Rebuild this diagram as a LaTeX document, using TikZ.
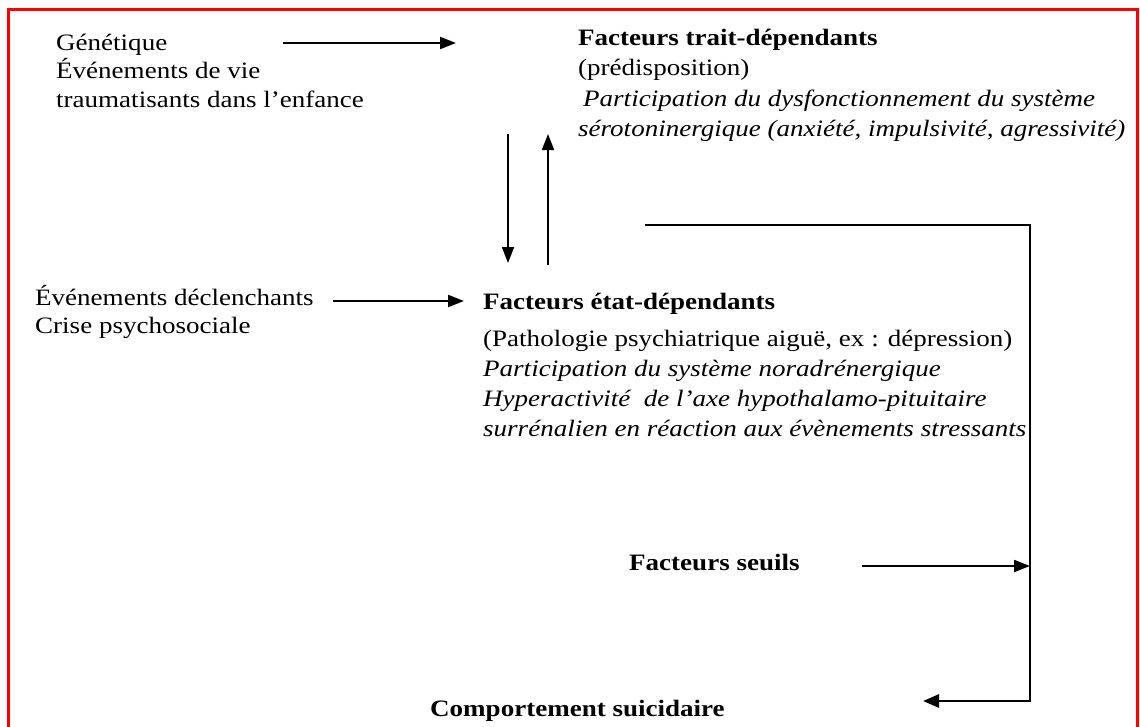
\documentclass[tikz,border=0pt]{standalone}
\usepackage{fontspec}
\setmainfont{Liberation Serif}[FakeStretch=1.15]
\usetikzlibrary{arrows.meta}
\begin{document}
\begin{tikzpicture}[x=1pt,y=-1pt,
  txt/.style={anchor=base west,inner sep=0pt,align=left,font=\fontsize{23.5}{29}\selectfont},
  arr/.style={-{Triangle[length=16pt,width=12pt]},line width=2.1pt},
  varr/.style={-{Triangle[length=16pt,width=12pt]},line width=1.8pt},
  frame/.style={draw=red,line width=3pt}]
\useasboundingbox (0,0) rectangle (1140,726);
\draw[frame] (8.5,730) -- (8.5,9.5) -- (1137.5,9.5) -- (1137.5,730);

% anchors are at the baseline of each block's last line
\node[txt,font=\fontsize{23.5}{28.5}\selectfont] (gen) at (56,107) {Génétique\\Événements de vie\\traumatisants dans l'enfance};
\node[txt,font=\fontsize{23.5}{30.5}\selectfont] (trait) at (578,136.5) {\textbf{Facteurs trait-dépendants}\\(prédisposition)\\\hspace*{5pt}\textit{Participation du dysfonctionnement du système}\\\textit{sérotoninergique (anxiété, impulsivité, agressivité)}};
\node[txt,font=\fontsize{23.5}{28}\selectfont] (decl) at (35,333) {Événements déclenchants\\Crise psychosociale};
\node[txt,font=\fontsize{23.5}{30}\selectfont] (etat) at (483,436) {\textbf{Facteurs état-dépendants}\\[7pt](Pathologie psychiatrique aiguë, ex : dépression)\\\textit{Participation du système noradrénergique}\\\textit{Hyperactivité \ de l'axe hypothalamo-pituitaire}\\\textit{surrénalien en réaction aux évènements stressants}};
\node[txt] (seuils) at (629,570) {\textbf{Facteurs seuils}};
\node[txt] (comp) at (430,716) {\textbf{Comportement suicidaire}};

\coordinate (a1s) at (283,43);
\coordinate (a1e) at (456,43);
\coordinate (a2s) at (333,301);
\coordinate (a2e) at (464,301);
\coordinate (dns) at (508,134);
\coordinate (dne) at (508,263);
\coordinate (ups) at (548,265);
\coordinate (upe) at (548,134);
\coordinate (bs) at (645,225);
\coordinate (bc1) at (1030,225);
\coordinate (bc2) at (1030,701);
\coordinate (be) at (923,701);
\coordinate (a3s) at (862,566);

\draw[arr] (a1s) -- (a1e);
\draw[arr] (a2s) -- (a2e);
\draw[varr] (dns) -- (dne);
\draw[varr] (ups) -- (upe);
\draw[line width=2.8pt,-{Triangle[length=16pt,width=13pt]}] (bs) -- (bc1) -- (bc2) -- (be);
\draw[arr] (a3s) -- (a3s -| bc1);
\end{tikzpicture}
\end{document}
